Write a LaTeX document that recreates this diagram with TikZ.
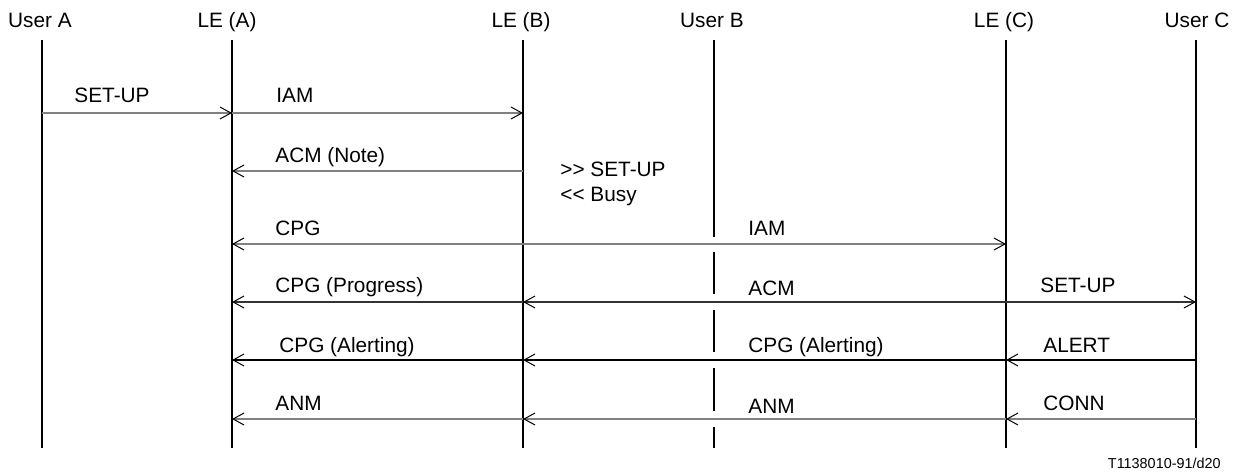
\documentclass[tikz,border=0pt]{standalone}
\usepackage{fontspec}
\setmainfont{Liberation Sans}
\usetikzlibrary{arrows.meta}
\tikzset{
  lifeline/.style={line width=1pt, black},
  msg/.style={line width=0.6pt, black!50, -{Straight Barb[length=5.5pt,width=6pt,line width=0.5pt,black]}},
  msgdark/.style={msg, black!80},
  msgblack/.style={msg, black},
  head/.style={anchor=base, inner sep=0pt, font=\fontsize{10.4}{12}\selectfont},
  lbl/.style={anchor=base west, inner sep=0pt, font=\fontsize{10.4}{12}\selectfont},
  foot/.style={anchor=base east, inner sep=0pt, font=\fontsize{7.2}{9}\selectfont}
}
\begin{document}
\begin{tikzpicture}[x=0.5pt,y=-0.5pt]
\useasboundingbox (0,0) rectangle (1241,475);
% lifeline x positions
\coordinate (ua) at (42,40);
\coordinate (lea) at (232,40);
\coordinate (leb) at (523,40);
\coordinate (ub) at (714,40);
\coordinate (lec) at (1006,40);
\coordinate (uc) at (1196,40);
\coordinate (bot) at (0,448);
% rows
\coordinate (r1) at (0,113);
\coordinate (r2) at (0,171);
\coordinate (r3) at (0,244);
\coordinate (r4) at (0,302);
\coordinate (r5) at (0,360);
\coordinate (r6) at (0,419);
% headers
\node[head] (hua) at (40,28) {User A};
\node[head] (hlea) at (227,28) {LE (A)};
\node[head] (hleb) at (521,28) {LE (B)};
\node[head] (hub) at (712,28) {User B};
\node[head] (hlec) at (1004,28) {LE (C)};
\node[head] (huc) at (1197,28) {User C};
% lifelines
\draw[lifeline] (ua) -- (ua |- bot);
\draw[lifeline] (lea) -- (lea |- bot);
\draw[lifeline] (leb) -- (leb |- bot);
\draw[lifeline] (lec) -- (lec |- bot);
\draw[lifeline] (uc) -- (uc |- bot);
% User B broken lifeline
\draw[lifeline] (ub) -- ([yshift=3.5pt]ub |- r3);
\draw[lifeline] ([yshift=-4pt]ub |- r3) -- ([yshift=4pt]ub |- r4);
\draw[lifeline] ([yshift=-4pt]ub |- r4) -- ([yshift=4pt]ub |- r5);
\draw[lifeline] ([yshift=-4pt]ub |- r5) -- ([yshift=4pt]ub |- r6);
\draw[lifeline] ([yshift=-4pt]ub |- r6) -- (ub |- bot);
% row 1
\draw[msg] (ua |- r1) -- (lea |- r1);
\draw[msg] (lea |- r1) -- (leb |- r1);
\node[head] (l1a) at (112,103) {SET-UP};
\node[lbl] (l1b) at (276,103) {IAM};
% row 2
\draw[msg] (leb |- r2) -- (lea |- r2);
\node[lbl] (l2a) at (275,163) {ACM (Note)};
\node[lbl] (n1) at (560,177) {>{}> SET-UP};
\node[lbl] (n2) at (560,202) {<{}< Busy};
% row 3
\draw[msg] (leb |- r3) -- (lea |- r3);
\draw[msg] (leb |- r3) -- (lec |- r3);
\node[lbl] (l3a) at (275,236) {CPG};
\node[lbl] (l3b) at (748,236) {IAM};
% row 4
\draw[msgdark] (leb |- r4) -- (lea |- r4);
\draw[msgdark] (lec |- r4) -- (leb |- r4);
\draw[msgdark] (lec |- r4) -- (uc |- r4);
\node[lbl] (l4a) at (275,293) {CPG (Progress)};
\node[lbl] (l4b) at (748,296) {ACM};
\node[lbl] (l4c) at (1040,293) {SET-UP};
% row 5
\draw[msgblack] (leb |- r5) -- (lea |- r5);
\draw[msgblack] (lec |- r5) -- (leb |- r5);
\draw[msgblack] (uc |- r5) -- (lec |- r5);
\node[lbl] (l5a) at (279,352) {CPG (Alerting)};
\node[lbl] (l5b) at (748,352) {CPG (Alerting)};
\node[lbl] (l5c) at (1043,352) {ALERT};
% row 6
\draw[msg] (leb |- r6) -- (lea |- r6);
\draw[msg] (lec |- r6) -- (leb |- r6);
\draw[msg] (uc |- r6) -- (lec |- r6);
\node[lbl] (l6a) at (275,410) {ANM};
\node[lbl] (l6b) at (748,413) {ANM};
\node[lbl] (l6c) at (1043,410) {CONN};
% footer
\node[foot] (ft) at (1221,468) {T1138010-91/d20};
\end{tikzpicture}
\end{document}
